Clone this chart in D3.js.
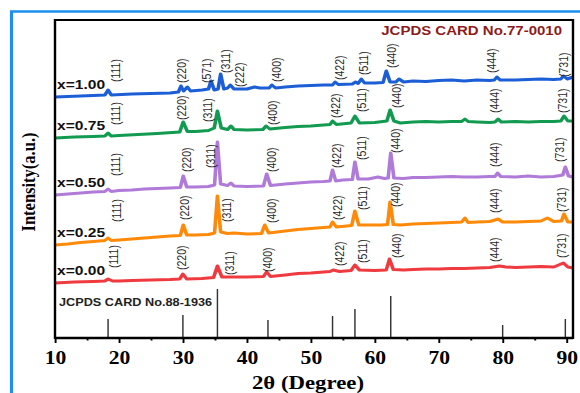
<!DOCTYPE html>
<meta charset="utf-8">
<style>
body { margin: 0; background: #fff; }
svg { display: block; }
.frame { fill: none; stroke: #000; stroke-width: 2px; }
.trace { fill: none; stroke-width: 3px; stroke-linejoin: round; }
.stick { stroke: #333; stroke-width: 1.2px; }
.hkl { font-family: "Liberation Sans", Arial, sans-serif; font-size: 10.5px; fill: #2a2a2a; }
.sample { font-family: "Liberation Sans", Arial, sans-serif; font-size: 13px; font-weight: bold; fill: #111; }
.card { font-family: "Liberation Sans", Arial, sans-serif; font-weight: bold; }
.axis text { font-family: "Liberation Serif", serif; font-size: 18px; font-weight: bold; fill: #000; }
.axis line { stroke: #000; stroke-width: 1.6px; }
.title { font-family: "Liberation Serif", serif; font-weight: bold; fill: #000; }
</style>
<body>
<script src="https://d3js.org/d3.v7.min.js"></script>
<script>

var width = 580,
    height = 393,
    sx = 1.2;   // the figure is stretched sideways, so draw narrow and stretch

// samples, bottom to top
var sampleNames = ["x=0.00", "x=0.25", "x=0.50", "x=0.75", "x=1.00"];
var sampleColors = ["#ef3b40", "#ff8a0a", "#b07bd8", "#129b50", "#1c5ed6"];

// [2θ, intensity a.u.]
var pattern000 = [[10,55],[13,56],[16,56.5],[17.8,57],[18.3,59],[19,57],[20,57],[22,57.5],[25,58],[28,58.5],[29.5,59],[30.0,64],[30.6,59],[33,59.5],[34.8,60.5],[35.4,72],[36.1,61],[38,61],[40,61],[42.6,61.5],[43.1,66],[43.7,61.5],[46,63],[48,64.5],[50,65],[52,66],[53.0,66.5],[53.5,68],[54.5,66.5],[56.3,67.5],[56.9,73],[57.6,68],[60,67.5],[61.8,68],[62.3,79],[62.9,68.5],[64.5,68],[66,68.5],[68,69],[70,69],[72,69.5],[74,69.5],[76,70],[78,70.5],[79.5,72],[80.5,71],[82,70.5],[84,71],[86,71.5],[88,71],[89.5,75],[90.2,71],[91,70]];
var pattern025 = [[10,93],[12,94],[14,95.5],[16,96.5],[17.8,97.5],[18.3,100],[18.8,97.5],[20,98],[22,99],[24,100],[26,101],[28,102],[29.6,102.5],[30.05,113],[30.6,103],[32,103],[34,103.5],[34.95,105],[35.4,142],[35.9,106],[37,104.5],[38,105],[40,104],[42.3,104.5],[42.8,113],[43.4,105],[46,107],[48,108.5],[50,109.5],[52,110.5],[53.0,111],[53.4,116],[54,111],[56.4,112.5],[56.9,127],[57.5,113],[59,113],[61,113],[62.0,113.5],[62.4,136],[62.9,113.5],[64,113],[66,114],[68,114.5],[70,115],[72,115.5],[73.6,116],[74.1,120],[74.6,115.5],[76,116],[78,116.5],[79.3,119],[80,116],[82,116],[84,116.5],[86,117],[87.0,120],[88,116.5],[89.2,117],[89.6,124],[90.2,116],[91,116]];
var pattern050 = [[10,143],[12,144],[14,145],[16,146],[17.8,146.5],[18.3,149],[18.8,146.5],[20,147.5],[22,148],[24,149],[26,149.5],[28,150],[29.6,150.5],[30.05,162],[30.6,151],[32,151],[34,151.5],[34.95,153],[35.4,196],[35.9,154],[37,152.5],[37.5,155],[38,152],[40,151.5],[42.6,152],[43.1,164],[43.7,152.5],[46,154],[48,155],[50,156],[52,156.5],[53.0,157],[53.4,168],[53.9,157],[55,158],[56.5,158.5],[56.9,176],[57.4,159],[59,159],[60.5,161],[61.5,159.5],[62.1,160],[62.5,185],[63.0,160],[64.5,159.5],[66,160.5],[68,160.5],[70,161],[72,161.5],[74,161],[76,161],[78,161.5],[78.8,161.5],[79.2,165],[79.7,161.5],[82,161],[84,162],[86,161],[88,161.5],[89.4,163],[89.8,171],[90.3,162],[91,161]];
var pattern075 = [[10,200],[13,201],[16,201.5],[17.8,202],[18.3,205],[18.8,202],[20,202.5],[23,203.5],[26,204.5],[29.5,206],[30.05,216],[30.7,206.5],[32,206.5],[34,207.5],[34.9,210],[35.4,227],[36.0,210],[37.0,208.5],[37.5,212],[38,208.5],[40,208],[42.5,208.5],[43.0,212],[43.6,209],[46,210.5],[48,211.5],[50,212],[52,213],[53.0,213.5],[53.4,217],[54.0,213.5],[56.3,215],[56.9,222],[57.6,215],[60,215.5],[61.9,217],[62.4,228],[63.0,217],[64,215],[66,216],[68,216.5],[70,216],[72,216.5],[73.6,216.5],[74.1,219],[74.6,216.5],[76,216],[78,215.5],[78.8,216],[79.3,219],[79.8,216],[82,216.5],[84,216],[86,216.5],[88,216.5],[89.1,217],[89.6,222],[90.2,217],[91,217]];
var pattern100 = [[10,241],[12,241.5],[14,242],[16,242.5],[17.8,243],[18.3,248],[18.8,243],[22,244],[25,244.5],[28,245],[29.3,246],[29.7,252],[30.1,247],[30.7,251],[31.2,247],[33,248],[34.0,249],[34.4,257],[34.9,248],[35.5,249],[35.9,264],[36.4,249],[37.0,250],[37.4,253],[38,249],[40,249],[41.2,251],[42,250],[43.5,250],[43.9,253],[44.5,250],[46,251],[48,252],[50,252.5],[52,253],[53.4,253],[53.8,256],[54.3,253.5],[56.5,254],[57.0,256],[57.4,254.5],[57.9,259],[58.4,255],[60,255],[61.3,255.5],[61.8,267],[62.4,256],[63.3,256],[63.8,259],[64.5,256],[66,257],[68,256.5],[70,257.5],[72,258],[74,257],[76,258],[78,257.5],[78.7,258],[79.1,261],[79.6,258],[82,258],[84,258.5],[86,259],[88,258.5],[89.1,259],[89.5,262],[90.1,259],[91,261]];
var patterns = [pattern000, pattern025, pattern050, pattern075, pattern100];

// reflection labels: [hkl, 2θ, intensity level]
var hkl000 = [["(111)",19.1,70],["(220)",29.8,68],["(311)",37.3,63],["(400)",43.3,66],["(422)",54.5,72],["(511)",58.1,75],["(440)",63.4,80],["(444)",78.8,76],["(731)",89.2,80]];
var hkl025 = [["(111)",19.7,116],["(220)",30.3,118],["(311)",36.9,116],["(400)",43.9,115],["(422)",54.2,118],["(511)",58.1,128],["(440)",63.2,131],["(444)",78.8,125],["(731)",89.2,126]];
var hkl050 = [["(111)",19.4,162],["(220)",30.5,166],["(311)",34.4,170],["(400)",43.9,166],["(422)",54.1,170],["(511)",57.9,178],["(440)",63.2,185],["(444)",78.8,171],["(731)",88.9,176]];
var hkl075 = [["(111)",19.4,213],["(220)",29.8,218],["(311)",33.9,216],["(400)",44.1,213],["(422)",53.8,220],["(511)",58.0,226],["(440)",63.4,230],["(444)",78.8,225],["(731)",89.4,225]];
var hkl100 = [["(111)",19.4,256],["(220)",29.8,255],["(571)",33.7,255],["(311)",36.6,265],["(222)",38.9,251],["(400)",44.7,256],["(422)",54.5,258],["(511)",58.3,263],["(440)",62.7,270],["(444)",78.3,265],["(731)",89.5,261]];
var hklLabels = [hkl000, hkl025, hkl050, hkl075, hkl100];

// JCPDS 88-1936 reference lines: [2θ, intensity]
var refLines = [[18.3,19],[30.0,23],[35.4,49],[43.3,18],[53.4,22],[56.9,29],[62.5,42],[80.0,13],[89.8,19]];

var majorTicks = [10, 20, 30, 40, 50, 60, 70, 80, 90];
var minorTicks = [15, 25, 35, 45, 55, 65, 75, 85];

var x = d3.scaleLinear().domain([10, 91]).range([55 / sx, 573 / sx]);
var y = d3.scaleLinear().domain([0, 318]).range([338, 20]);

var svg = d3.select("body").append("svg")
    .attr("width", width)
    .attr("height", height)
    .attr("viewBox", "0 0 " + (width / sx) + " " + height)
    .attr("preserveAspectRatio", "none");

// blue outer frame
svg.append("path")
    .attr("d", "M" + (11.5 / sx) + "," + height + "V11.5H" + (width / sx))
    .attr("fill", "none")
    .attr("stroke", "#1d8ff0")
    .attr("stroke-width", 2.6);

// reference sticks
svg.selectAll(".stick")
    .data(refLines)
  .enter().append("line")
    .attr("class", "stick")
    .attr("x1", d => x(d[0])).attr("x2", d => x(d[0]))
    .attr("y1", y(0)).attr("y2", d => y(d[1]));

var line = d3.line()
    .x(d => x(d[0]))
    .y(d => y(d[1]));

svg.selectAll(".trace")
    .data(patterns)
  .enter().append("path")
    .attr("class", "trace")
    .attr("stroke", (d, i) => sampleColors[i])
    .attr("d", line);

// hkl labels
hklLabels.forEach(function(set) {
  svg.selectAll(null)
      .data(set)
    .enter().append("text")
      .attr("class", "hkl")
      .attr("transform", d => "translate(" + x(d[1]) + "," + y(d[2]) + ")rotate(-90)")
      .attr("dy", "0.35em")
      .text(d => d[0]);
});

// sample names
svg.selectAll(".sample")
    .data(patterns)
  .enter().append("text")
    .attr("class", "sample")
    .attr("x", x(10) + 2 / sx)
    .attr("y", d => y(d[0][1]) - 8)
    .text((d, i) => sampleNames[i]);

svg.append("text")
    .attr("class", "card")
    .attr("x", 562 / sx)
    .attr("y", 35)
    .attr("text-anchor", "end")
    .attr("fill", "#8e1b1b")
    .style("font-size", "12.5px")
    .text("JCPDS CARD No.77-0010");

svg.append("text")
    .attr("class", "card")
    .attr("x", x(10) + 4 / sx)
    .attr("y", 306)
    .attr("fill", "#222")
    .style("font-size", "10.6px")
    .text("JCPDS CARD No.88-1936");

// axes
var gx = svg.append("g")
    .attr("class", "axis")
    .attr("transform", "translate(0," + y(0) + ")")
    .call(d3.axisBottom(x).tickValues(majorTicks).tickSize(5).tickPadding(8));
gx.select(".domain").remove();

var gm = svg.append("g")
    .attr("class", "axis")
    .attr("transform", "translate(0," + y(0) + ")")
    .call(d3.axisBottom(x).tickValues(minorTicks).tickSize(2.5).tickFormat(""));
gm.select(".domain").remove();

svg.append("rect")
    .attr("class", "frame")
    .attr("x", x(10)).attr("y", y(318))
    .attr("width", x(91) - x(10))
    .attr("height", y(0) - y(318));

svg.append("line")
    .attr("x1", x(10)).attr("x2", x(91))
    .attr("y1", y(0)).attr("y2", y(0))
    .attr("stroke", "#000").attr("stroke-width", 2.6);

svg.append("text")
    .attr("class", "title")
    .attr("x", 308 / sx)
    .attr("y", 389)
    .attr("text-anchor", "middle")
    .style("font-size", "19px")
    .text("2θ (Degree)");

svg.append("text")
    .attr("class", "title")
    .attr("transform", "translate(" + (28 / sx) + ",182)rotate(-90)")
    .attr("dy", "0.35em")
    .attr("text-anchor", "middle")
    .style("font-size", "16.5px")
    .text("Intensity(a.u.)");

</script>
